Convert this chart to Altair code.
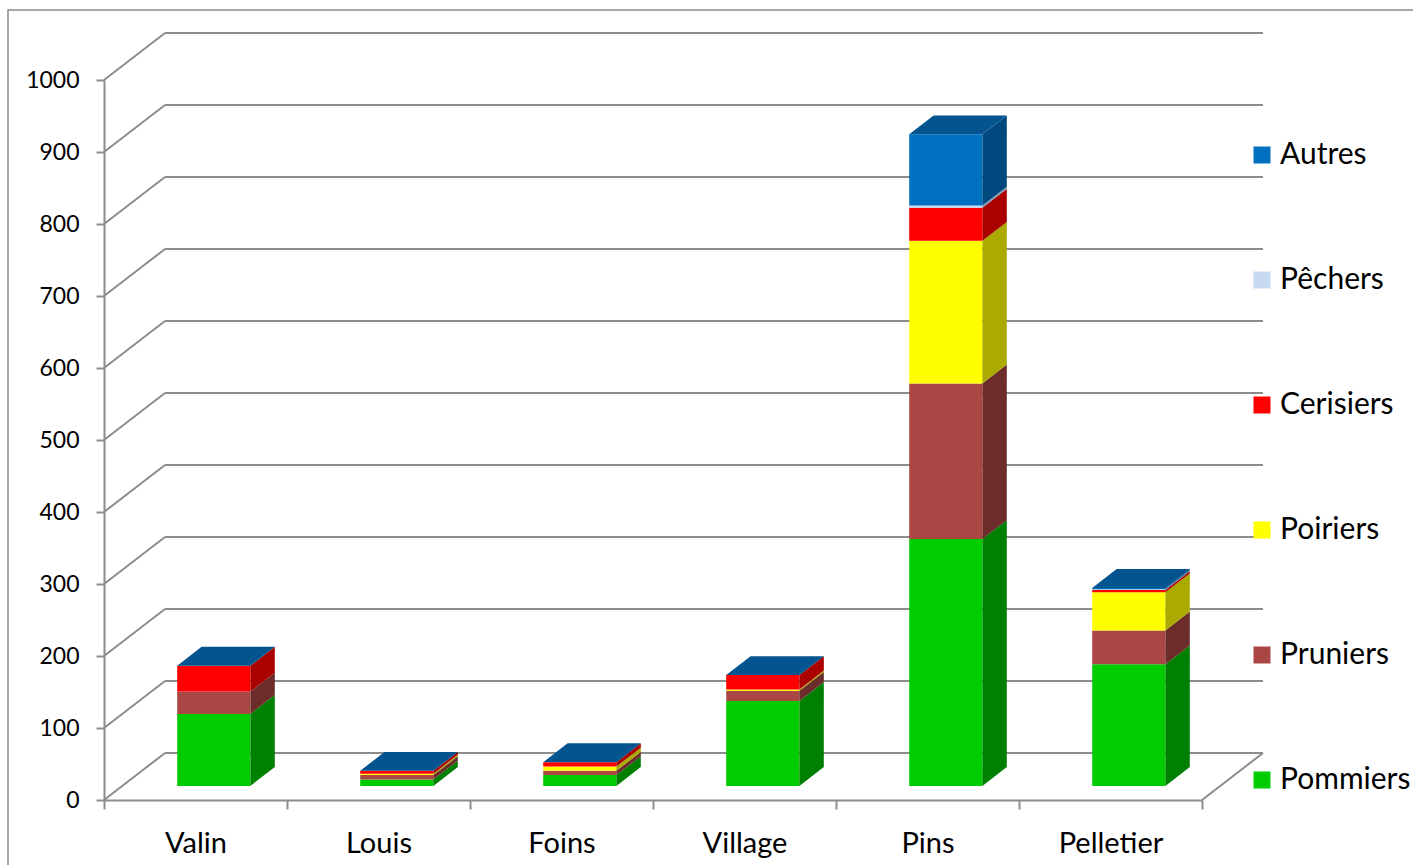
import altair as alt
import pandas as pd

# ---- data -----------------------------------------------------------------
categories = ["Valin", "Louis", "Foins", "Village", "Pins", "Pelletier"]
series = ["Pommiers", "Pruniers", "Poiriers", "Cerisiers", "Pêchers", "Autres"]

pommiers = [100, 9, 15, 118, 343, 169]
pruniers = [31, 6, 6, 14, 216, 47]
poiriers = [0, 2, 6, 2, 198, 53]
cerisiers = [36, 4, 6, 20, 46, 3]
pechers = [0, 0, 0, 0, 3, 1]
autres = [0, 0, 0, 0, 99, 2]

y_ticks = list(range(0, 1001, 100))

# ---- styling --------------------------------------------------------------
front_colors = ["#00CC00", "#AA4643", "#FFFF00", "#FF0000", "#C6D9F1", "#0070C0"]
side_colors = ["#008000", "#6B2C2A", "#AAAA00", "#AA0000", "#8497B0", "#00497F"]
top_color = "#04558F"
grid_color = "#8C8C8C"
FONT = "Lato"

# oblique projection of the depth axis, expressed in data units
DX = 1 / 3      # horizontal shift of full depth (category units)
DY = 65.3       # vertical shift of full depth (value units)
Z0, Z1 = 0.3, 0.7   # depth of the bars' front and back faces
BAR_W = 0.4         # bar width (category units)

# ---- geometry built from the values ---------------------------------------
values = [pommiers, pruniers, poiriers, cerisiers, pechers, autres]
front_rows, side_rows, top_rows = [], [], []
for i, cat in enumerate(categories):
    base = 0
    xl = i + (1 - BAR_W) / 2 + Z0 * DX
    xr = xl + BAR_W
    for s, name in enumerate(series):
        v = values[s][i]
        y0, y1 = base, base + v
        base = y1
        if v <= 0:
            continue
        key = f"{cat}-{name}"
        front_rows.append(dict(cat=cat, serie=name, value=v,
                               x=xl, x2=xr, y=y0 + Z0 * DY, y2=y1 + Z0 * DY))
        for z in (Z0, Z1):
            side_rows.append(dict(key=key, side=side_colors[s],
                                  x=xr + (z - Z0) * DX,
                                  y=y1 + z * DY, y2=y0 + z * DY))
    for z in (Z0, Z1):
        top_rows.append(dict(cat=cat, x=xl + (z - Z0) * DX,
                             x2=xr + (z - Z0) * DX, y=base + z * DY))

front_df = pd.DataFrame(front_rows)
side_df = pd.DataFrame(side_rows)
top_df = pd.DataFrame(top_rows)

n = len(categories)
grid_rows = []
for v in y_ticks:
    # back wall line
    grid_rows.append(dict(x=DX, x2=n + DX, y=v + DY, y2=v + DY))
    # side wall diagonal
    grid_rows.append(dict(x=0, x2=DX, y=v, y2=v + DY))
# right edge of the floor
grid_rows.append(dict(x=n, x2=n + DX, y=0, y2=DY))
grid_df = pd.DataFrame(grid_rows)

xs = alt.Scale(domain=[0, n], nice=False, zero=False)
ys = alt.Scale(domain=[0, 1000], nice=False, zero=False)

label_expr = "[" + ",".join(f"'{c}'" for c in categories) + ",''][datum.value]"

x_axis = alt.Axis(values=list(range(n + 1)), labelExpr=label_expr, title=None,
                  grid=False, tickSize=9, tickColor=grid_color, tickWidth=2,
                  domainColor=grid_color, domainWidth=2,
                  labelOffset=91.5, labelFlush=False, labelOverlap=False,
                  labelBound=False, labelPadding=20, labelFontSize=29,
                  labelColor="#000000", labelFont=FONT)
y_axis = alt.Axis(values=y_ticks, title=None, grid=False, tickSize=8,
                  tickColor=grid_color, tickWidth=2, domainColor=grid_color,
                  domainWidth=2, labelPadding=17, labelFontSize=23,
                  labelColor="#000000", labelFont=FONT, format="d")


def X(field):
    return alt.X(field, scale=xs, axis=x_axis)


def Y(field):
    return alt.Y(field, scale=ys, axis=y_axis, stack=None)


grid = alt.Chart(grid_df).mark_rule(color=grid_color, strokeWidth=2).encode(
    x=X("x:Q"), x2="x2:Q", y=Y("y:Q"), y2="y2:Q",
)

front = alt.Chart(front_df).mark_rect(opacity=1).encode(
    x=X("x:Q"), x2="x2:Q", y=Y("y:Q"), y2="y2:Q",
    color=alt.Color("serie:N",
                    scale=alt.Scale(domain=series[::-1], range=front_colors[::-1]),
                    legend=alt.Legend(title=None, orient="none", legendX=1143,
                                      legendY=60, symbolType="square",
                                      symbolSize=289, symbolStrokeWidth=0,
                                      symbolOpacity=1,
                                      labelFontSize=30, labelFont=FONT,
                                      labelColor="#000000", labelOffset=3,
                                      rowPadding=95, padding=0)),
)

side = alt.Chart(side_df).mark_area(orient="vertical", opacity=1,
                                    fillOpacity=1).encode(
    x=X("x:Q"), y=Y("y:Q"), y2="y2:Q",
    detail="key:N",
    color=alt.Color("side:N", scale=None),
)

top = alt.Chart(top_df).mark_area(orient="horizontal", color=top_color,
                                  opacity=1, fillOpacity=1).encode(
    y=Y("y:Q"), x=X("x:Q"), x2="x2:Q",
    detail="cat:N",
)

frame = alt.Chart(pd.DataFrame({"f": [0]})).mark_rect(
    fillOpacity=0, stroke="#8A8A8A", strokeWidth=1.5
).encode(
    x=alt.value(-96), x2=alt.value(1320), y=alt.value(-70), y2=alt.value(800)
)

chart = alt.layer(grid, front, side, top, frame).properties(
    width=1098, height=720,
    padding={"left": 104, "top": 80, "right": 211, "bottom": 65},
    autosize=alt.AutoSizeParams(type="none"),
    background="#FFFFFF",
).configure_view(strokeWidth=0)

chart.save("out.html", embed_options={"renderer": "svg", "actions": False})
